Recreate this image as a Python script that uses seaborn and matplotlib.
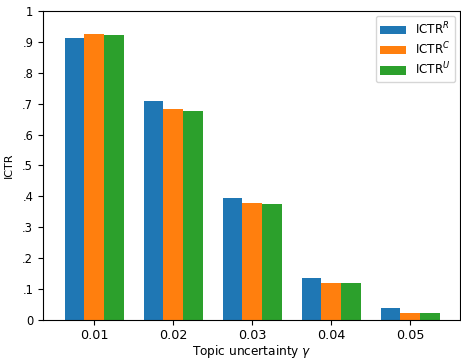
import pandas as pd
import numpy as np
import matplotlib
matplotlib.use('Agg')
import matplotlib.pyplot as plt
import seaborn as sns

# Values
GAMMAS = ['0.01', '0.02', '0.03', '0.04', '0.05']
ICTR_R = [0.914, 0.709, 0.395, 0.136, 0.039]
ICTR_C = [0.926, 0.683, 0.379, 0.120, 0.023]
ICTR_U = [0.922, 0.676, 0.375, 0.120, 0.023]
SERIES = ['ICTR$^R$', 'ICTR$^C$', 'ICTR$^U$']
YTICKS = [0, 0.1, 0.2, 0.3, 0.4, 0.5, 0.6, 0.7, 0.8, 0.9, 1.0]
YTICK_LABELS = ['0', '.1', '.2', '.3', '.4', '.5', '.6', '.7', '.8', '.9', '1']
COLORS = ['#1f77b4', '#ff7f0e', '#2ca02c']

plt.rcParams['font.family'] = ['DejaVu Sans']
plt.rcParams['font.size'] = 8.5

df = pd.DataFrame({
    'gamma': GAMMAS * 3,
    'value': ICTR_R + ICTR_C + ICTR_U,
    'series': [s for s in SERIES for _ in GAMMAS],
})

fig = plt.figure(figsize=(4.61, 3.59), dpi=100)
ax = fig.add_axes([0.093, 0.109, 0.905, 0.860])

sns.barplot(data=df, x='gamma', y='value', hue='series', order=GAMMAS,
            hue_order=SERIES, palette=COLORS, saturation=1, errorbar=None,
            width=0.75, ax=ax)

ax.set_xlim(-0.65, 4.63)
ax.set_ylim(0, 1)
ax.set_yticks(YTICKS)
ax.set_yticklabels(YTICK_LABELS)
ax.tick_params(axis='x', labelsize=9.2, pad=3)
ax.tick_params(axis='y', labelsize=8.3)
ax.set_xlabel('Topic uncertainty $\\gamma$', fontsize=8.7, labelpad=1)
ax.set_ylabel('ICTR', fontsize=8, labelpad=6)
ax.legend(loc='upper right', title=None, fontsize=8.6, handlelength=2.1,
          labelspacing=0.3, borderaxespad=0.4)

fig.savefig('out.png', dpi=100)
